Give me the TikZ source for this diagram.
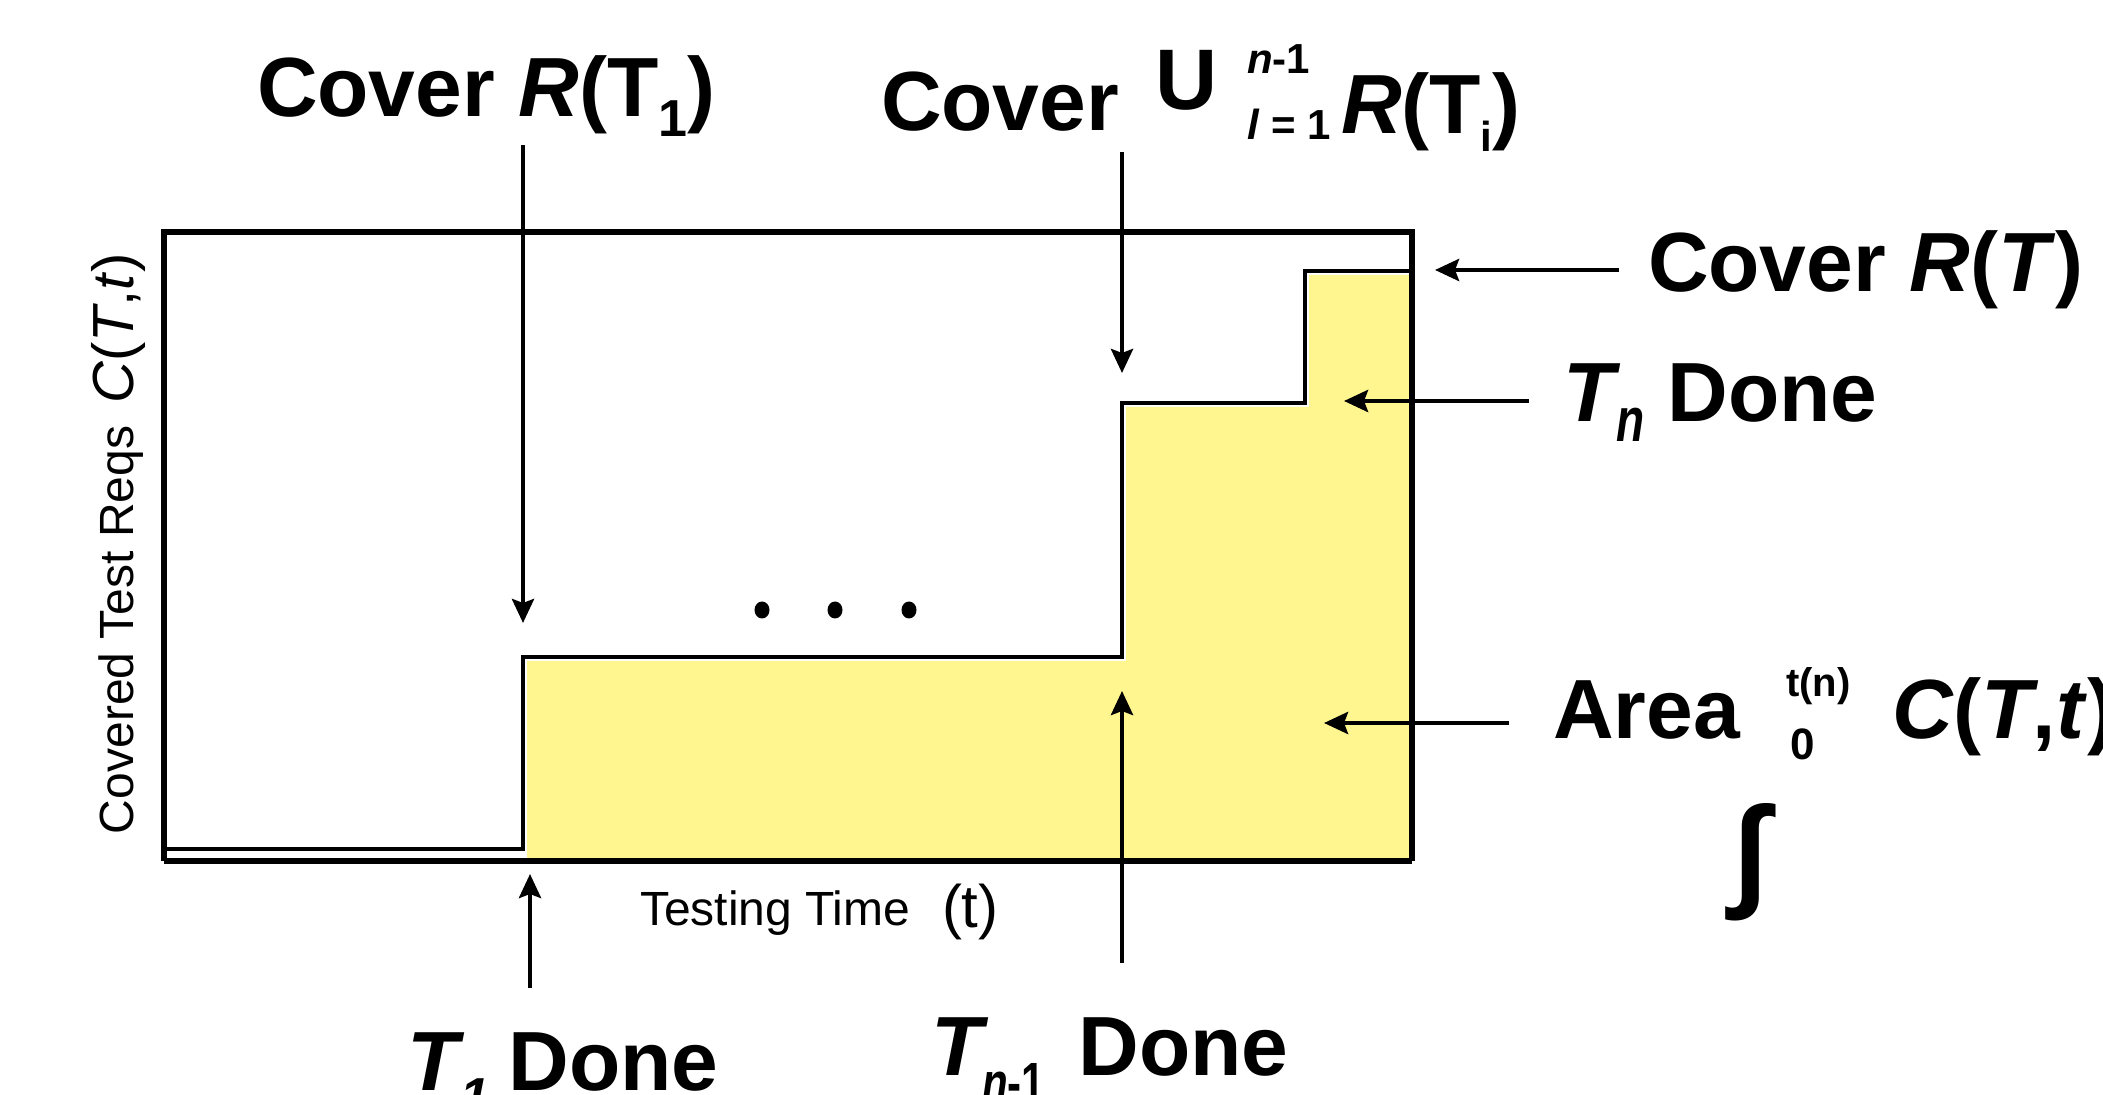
\documentclass[tikz,border=0pt]{standalone}
\usepackage{fontspec}
\setmainfont{Liberation Sans}
\usepackage{graphicx}
\usetikzlibrary{arrows.meta,shapes.geometric}
\definecolor{areafill}{HTML}{FFF68F}
\newcommand\bigf{\fontsize{42}{50}\selectfont\bfseries}
\newcommand\fs[1]{\fontsize{#1}{#1}\selectfont}
\begin{document}
\begin{tikzpicture}[x=0.5pt,y=-0.5pt,
  lbl/.style={inner sep=0,outer sep=0,anchor=base west},
  arr/.style={line width=2.2pt,-{Stealth[length=12pt,width=11pt,inset=2pt]}},
  dotmark/.style={ellipse,fill=black,inner sep=0,minimum width=7.5pt,minimum height=8.5pt}]
\useasboundingbox (0,0) rectangle (2103,1095);
% area fill
\fill[areafill] (527,861) -- (527,661) -- (1126,661) -- (1126,407) -- (1309,407) -- (1309,275) -- (1409,275) -- (1409,861) -- cycle;
% frame
\draw[line width=2.8pt] (164,861) -- (164,232) -- (1412,232) -- (1412,861);
\draw[line width=3.3pt] (164,861) -- (1412,861);
% step curve
\draw[line width=2.2pt] (164,849) -- (523,849) -- (523,657) -- (1122,657) -- (1122,403) -- (1305,403) -- (1305,271) -- (1412,271);
% dots
\node[dotmark] (d1) at (762,610) {};
\node[dotmark] (d2) at (835,610) {};
\node[dotmark] (d3) at (909,610) {};
% labels
\node[lbl] (c1) at (257,117) {\bigf Cover \textit{R}(T\raisebox{-10pt}{\fs{26}1})};
\node[lbl] (c2) at (881,131) {\bigf Cover};
\node[lbl] (c2u) at (1155,110) {\fs{43}\bfseries U};
\node[lbl] (c2sup) at (1247,74) {\fs{21}\bfseries\textit{n}-1};
\node[lbl] (c2sub) at (1247,140) {\fs{21}\bfseries\textit{l} = 1};
\node[lbl] (c2r) at (1341,134) {\bigf\textit{R}(T\raisebox{-9pt}{\fs{21}i})};
\node[lbl] (c3) at (1648,292) {\bigf Cover \textit{R}(\textit{T})};
\node[lbl] (tn) at (1563,422) {\bigf\textit{T}\kern-2pt\raisebox{-10pt}{\scalebox{1}[1.35]{\fs{23}\textit{n}}} Done};
\node[lbl] (area) at (1553,738) {\bigf Area};
\node[lbl] (asup) at (1786,697) {\fs{20}\bfseries t(n)};
\node[lbl] (asub) at (1790,759) {\fs{22}\bfseries 0};
\node[lbl] (actt) at (1892,738) {\bigf\textit{C}(\textit{T},\textit{t})};
\node[inner sep=0,anchor=center] (aint) at (1750,862) {\fs{62}\bfseries ∫};
\node[lbl] (t1) at (407,1090) {\bigf\textit{T}\kern-2pt\raisebox{-12pt}{\fs{26}\textit{1}}\kern-2pt{} Done};
\node[lbl] (tn1) at (931,1075) {\bigf\textit{T}\kern-3pt\raisebox{-13.5pt}{\scalebox{1}[1.35]{\fs{21}\textit{n}-1}}\hspace{5pt} Done};
\node[lbl] (xlab) at (640,925) {\fs{24}Testing Time};
\node[lbl] (xlabt) at (942,927) {\fs{30}(t)};
\node[lbl,rotate=90] (ylab) at (133,834) {\fs{24}Covered Test Reqs\hspace{11pt}\fs{29}\textit{C}(\textit{T},\textit{t})};
% arrow coordinates
\coordinate (a1s) at (523,145); \coordinate (a1e) at (523,623);
\coordinate (a2s) at (1122,152); \coordinate (a2e) at (1122,373);
\coordinate (a3s) at (530,988); \coordinate (a3e) at (530,874);
\coordinate (a4s) at (1122,963); \coordinate (a4e) at (1122,691);
\coordinate (a5s) at (1619,270); \coordinate (a5e) at (1435,270);
\coordinate (a6s) at (1529,401); \coordinate (a6e) at (1344,401);
\coordinate (a7s) at (1509,723); \coordinate (a7e) at (1324,723);
\draw[arr] (a1s) -- (a1e);
\draw[arr] (a2s) -- (a2e);
\draw[arr] (a3s) -- (a3e);
\draw[arr] (a4s) -- (a4e);
\draw[arr] (a5s) -- (a5e);
\draw[arr] (a6s) -- (a6e);
\draw[arr] (a7s) -- (a7e);
\end{tikzpicture}
\end{document}
